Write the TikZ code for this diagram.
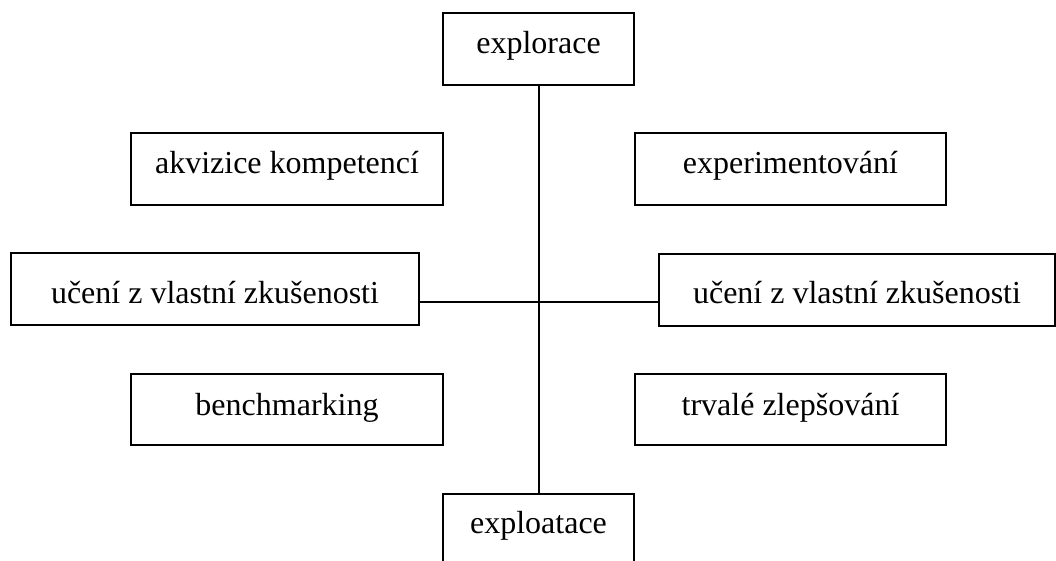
\documentclass[tikz,border=0pt]{standalone}
\usepackage{fontspec}
\setmainfont{Liberation Serif}
\begin{document}
\begin{tikzpicture}[x=1pt,y=-1pt,
  box/.style={draw=black, line width=2pt, fill=white, inner sep=0pt,
    minimum height=72pt, text height=22pt, text depth=7pt,
    font=\fontsize{32}{38}\selectfont},
  link/.style={draw=black, line width=2pt}]
\useasboundingbox (0,0) rectangle (1056,560);

\coordinate (hub) at (538.5,302);

% top and bottom poles
\node[box, minimum width=191pt, text depth=14pt] (explor) at (538.5,49) {explorace};
\node[box, minimum width=191pt, text depth=16pt] (exploat) at (538.5,530) {exploatace};

% upper pair
\node[box, minimum width=312pt, text depth=14pt] (akviz) at (287,169) {akvizice kompetencí};
\node[box, minimum width=311pt, text depth=14pt] (exper) at (790.5,169) {experimentování};

% middle pair on the horizontal axis
\node[box, minimum width=408pt, text height=35pt] (ucL) at (215,289) {učení z vlastní zkušenosti};
\node[box, minimum width=396pt, text height=34pt] (ucR) at (857,289.5) {učení z vlastní zkušenosti};

% lower pair
\node[box, minimum width=312pt, minimum height=71pt, text depth=11pt] (bench) at (287,409.5) {benchmarking};
\node[box, minimum width=311pt, minimum height=71pt, text depth=11pt] (trval) at (790.5,409.5) {trvalé zlepšování};

% the cross joining the boxes
\draw[link] (explor.south) -- (exploat.north);
\draw[link] (hub -| ucL.east) -- (hub -| ucR.west);
\end{tikzpicture}
\end{document}
